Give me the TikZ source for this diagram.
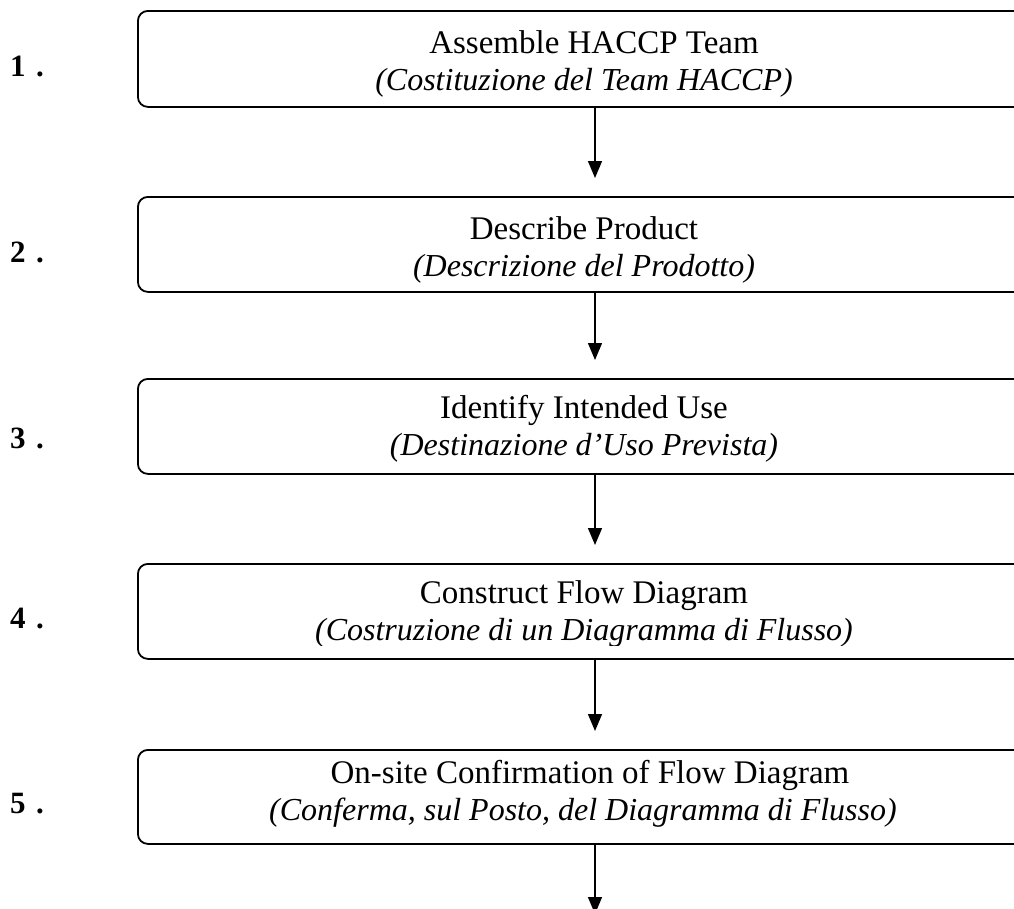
\documentclass[tikz,border=0pt]{standalone}
\usepackage{fontspec}
\setmainfont{Liberation Serif}
\usetikzlibrary{arrows.meta}
\begin{document}
\begin{tikzpicture}[x=1pt,y=-1pt,
  stepbox/.style={draw=black,line width=1.8pt,rounded corners=10pt,
    minimum width=900pt,anchor=north west,inner sep=0pt},
  txt/.style={inner sep=0pt,anchor=base,font=\fontsize{33}{37}\selectfont},
  itxt/.style={txt,font=\fontsize{32}{37}\selectfont\itshape},
  num/.style={inner sep=0pt,anchor=base west,font=\fontsize{31}{34}\selectfont\bfseries},
  arr/.style={line width=1.4pt,-{Triangle[width=14pt,length=17pt]}}]
\useasboundingbox (0,0) rectangle (1014,908);
\clip (0,0) rectangle (1014,908);
\coordinate (ax) at (595,0);
% boxes
\node[stepbox,minimum height=96pt] (b1) at (137,10) {};
\node[stepbox,minimum height=95pt] (b2) at (137,196) {};
\node[stepbox,minimum height=95pt] (b3) at (137,378) {};
\node[stepbox,minimum height=95pt] (b4) at (137,563) {};
\node[stepbox,minimum height=94pt] (b5) at (137,749) {};
\coordinate (end) at (595,914);
% numbers
\node[num] (n1) at (10,76) {1\,\,.};
\node[num] (n2) at (10,262) {2\,\,.};
\node[num] (n3) at (10,448) {3\,\,.};
\node[num] (n4) at (10,628) {4\,\,.};
\node[num] (n5) at (10,813) {5\,\,.};
% texts
\node[txt] (t1a) at (594,53) {Assemble HACCP Team};
\node[itxt] (t1b) at (584,90) {(Costituzione del Team HACCP)};
\node[txt] (t2a) at (584,239) {Describe Product};
\node[itxt] (t2b) at (584,276) {(Descrizione del Prodotto)};
\node[txt] (t3a) at (584,418) {Identify Intended Use};
\node[itxt] (t3b) at (584,455) {(Destinazione d’Uso Prevista)};
\node[txt] (t4a) at (584,603) {Construct Flow Diagram};
\begin{scope}
\clip (140,600) rectangle (1014,645);
\node[itxt] (t4b) at (584,640) {(Costruzione di un Diagramma di Flusso)};
\end{scope}
\node[txt] (t5a) at (590,783) {On-site Confirmation of Flow Diagram};
\begin{scope}
\clip (140,790) rectangle (1014,827);
\node[itxt] (t5b) at (583,820) {(Conferma, sul Posto, del Diagramma di Flusso)};
\end{scope}
% arrows
\draw[arr,shorten >=18pt] (b1.south -| ax) -- (b2.north -| ax);
\draw[arr,shorten >=18pt] (b2.south -| ax) -- (b3.north -| ax);
\draw[arr,shorten >=18pt] (b3.south -| ax) -- (b4.north -| ax);
\draw[arr,shorten >=18pt] (b4.south -| ax) -- (b5.north -| ax);
\draw[arr] (b5.south -| ax) -- (end);
\end{tikzpicture}
\end{document}
